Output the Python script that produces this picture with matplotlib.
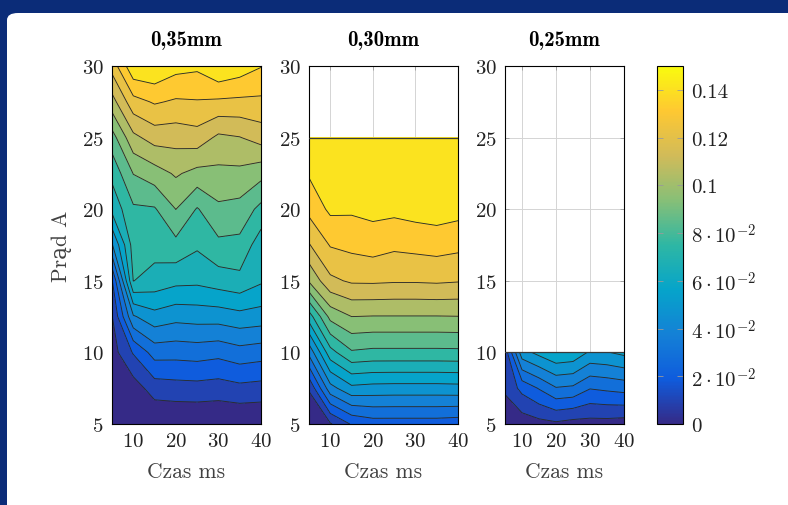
import numpy as np
import matplotlib
matplotlib.use("Agg")
import matplotlib.pyplot as plt
from matplotlib.colors import LinearSegmentedColormap, Normalize
from matplotlib.cm import ScalarMappable
from matplotlib.patches import FancyBboxPatch

plt.rcParams["font.family"] = ["cmr10", "DejaVu Serif"]
plt.rcParams["mathtext.fontset"] = "cm"
plt.rcParams["axes.unicode_minus"] = False
plt.rcParams["axes.formatter.use_mathtext"] = True

# =========================================================
# Datos
# =========================================================
titulos = ["0,35mm", "0,30mm", "0,25mm"]
czas = [5, 10, 15, 20, 25, 30, 35, 40]          # ms
prad_035 = [5, 7.5, 10, 12.5, 15, 17.5, 20, 22.5, 25, 27.5, 30]
prad_030 = [5, 7.5, 10, 12.5, 15, 17.5, 20, 22.5, 25]
prad_025 = [5, 7.5, 10]

# filas = prad, columnas = czas
z_035 = [
    [0.0000, 0.0010, 0.0000, 0.0000, 0.0000, 0.0000, 0.0000, 0.0000],
    [0.0025, 0.0049, 0.0148, 0.0159, 0.0163, 0.0153, 0.0173, 0.0163],
    [0.0055, 0.0209, 0.0342, 0.0338, 0.0346, 0.0331, 0.0362, 0.0346],
    [0.0095, 0.0488, 0.0564, 0.0533, 0.0542, 0.0545, 0.0567, 0.0555],
    [0.0190, 0.0802, 0.0761, 0.0728, 0.0722, 0.0749, 0.0771, 0.0714],
    [0.0490, 0.0843, 0.0839, 0.0871, 0.0815, 0.0877, 0.0871, 0.0745],
    [0.0727, 0.0884, 0.0890, 0.1001, 0.0892, 0.0980, 0.0966, 0.0870],
    [0.0828, 0.1003, 0.1055, 0.1113, 0.1068, 0.1075, 0.1075, 0.1034],
    [0.0956, 0.1174, 0.1242, 0.1239, 0.1258, 0.1179, 0.1196, 0.1242],
    [0.1159, 0.1364, 0.1411, 0.1387, 0.1393, 0.1383, 0.1378, 0.1379],
    [0.1340, 0.1580, 0.1590, 0.1535, 0.1520, 0.1595, 0.1556, 0.1505],
]
z_030 = [
    [0.0000, 0.0090, 0.0210, 0.0250, 0.0250, 0.0250, 0.0250, 0.0240],
    [0.0110, 0.0463, 0.0575, 0.0563, 0.0560, 0.0560, 0.0560, 0.0564],
    [0.0429, 0.0762, 0.0888, 0.0875, 0.0875, 0.0875, 0.0875, 0.0877],
    [0.0750, 0.1031, 0.1100, 0.1096, 0.1096, 0.1096, 0.1096, 0.1098],
    [0.1112, 0.1278, 0.1314, 0.1316, 0.1310, 0.1310, 0.1315, 0.1307],
    [0.1293, 0.1407, 0.1426, 0.1443, 0.1420, 0.1430, 0.1440, 0.1426],
    [0.1429, 0.1520, 0.1515, 0.1530, 0.1525, 0.1540, 0.1550, 0.1535],
    [0.1510, 0.1560, 0.1560, 0.1570, 0.1560, 0.1570, 0.1570, 0.1570],
    [0.1560, 0.1580, 0.1580, 0.1580, 0.1580, 0.1580, 0.1580, 0.1580],
]
z_025 = [
    [0.0030, 0.0040, 0.0065, 0.0080, 0.0060, 0.0060, 0.0060, 0.0050],
    [0.0115, 0.0231, 0.0307, 0.0393, 0.0380, 0.0305, 0.0320, 0.0335],
    [0.0140, 0.0560, 0.0630, 0.0690, 0.0675, 0.0585, 0.0595, 0.0625],
]

cbar_ticks = [0, 0.02, 0.04, 0.06, 0.08, 0.10, 0.12, 0.14]
cbar_labels = ["0", r"$2\cdot10^{-2}$", r"$4\cdot10^{-2}$", r"$6\cdot10^{-2}$",
               r"$8\cdot10^{-2}$", "0.1", "0.12", "0.14"]

# =========================================================
# Colormap tipo parula
# =========================================================
parula = LinearSegmentedColormap.from_list("parula", [
    (0.000, "#352a87"), (0.125, "#0f5cdd"), (0.250, "#1481d6"),
    (0.375, "#06a4ca"), (0.500, "#2eb7a4"), (0.625, "#87bf77"),
    (0.750, "#d1bb59"), (0.875, "#fec832"), (1.000, "#f9fb0e"),
])
norm = Normalize(vmin=0, vmax=0.15)
niveles = np.arange(0, 0.17, 0.01)
n_bandas = len(niveles) - 1
# cada banda toma el color de su nivel inferior
colores_bandas = [parula(k / n_bandas) for k in range(n_bandas)]

# =========================================================
# Figura
# =========================================================
W, H = 788, 506
fig = plt.figure(figsize=(W / 100, H / 100), dpi=100)
fig.patch.set_facecolor("#0b2c78")
fondo = FancyBboxPatch(
    (7 / W, -0.05), 1.1, 1 - 14 / H + 0.05,
    boxstyle="round,pad=0,rounding_size=0.014",
    transform=fig.transFigure, facecolor="white", edgecolor="none", zorder=-10
)
fig.patches.append(fondo)

def rect(x0, x1, y0=67, y1=425):
    return [x0 / W, 1 - y1 / H, (x1 - x0) / W, (y1 - y0) / H]

paneles = [
    (rect(112, 261), prad_035, z_035),
    (rect(309, 458), prad_030, z_030),
    (rect(505, 624), prad_025, z_025),
]

for i, (pos, prad, z) in enumerate(paneles):
    ax = fig.add_axes(pos)
    X, Y = np.meshgrid(czas, prad)
    Z = np.array(z)
    ax.set_axisbelow(True)
    ax.grid(True, color="#d4d4d4", linewidth=0.7)
    ax.contourf(X, Y, Z, levels=niveles, colors=colores_bandas, zorder=1)
    ax.contour(X, Y, Z, levels=niveles[1:-1], colors="#2b2b2b", linewidths=0.65, zorder=2)
    if max(prad) < 30:
        ax.axhline(max(prad), color="#3a3a3a", linewidth=0.9, zorder=3)
    ax.set_xlim(5, 40)
    ax.set_ylim(5, 30)
    ax.set_xticks([10, 20, 30, 40])
    ax.set_yticks([5, 10, 15, 20, 25, 30])
    ax.tick_params(direction="in", length=3, width=0.6, color="#9a9a9a",
                   labelsize=15, labelcolor="#222222", top=True, right=True, pad=6)
    for s in ax.spines.values():
        s.set_linewidth(0.8)
    ax.set_title(titulos[i], fontsize=15, fontfamily="cmb10", pad=15)
    ax.set_xlabel("Czas ms", fontsize=15.5, labelpad=8, color="#404040")
    if i == 0:
        ax.set_ylabel("Prąd A", fontsize=15.5, labelpad=7, color="#404040")

# ===== Colorbar =====
cax = fig.add_axes(rect(657, 683))
cb = fig.colorbar(ScalarMappable(norm=norm, cmap=parula), cax=cax)
cb.set_ticks(cbar_ticks)
cb.set_ticklabels(cbar_labels)
cb.outline.set_linewidth(0.8)
cax.tick_params(direction="in", length=4, width=0.6, color="#9a9a9a",
                left=True, right=True, labelsize=15, labelcolor="#222222", pad=6)

fig.savefig("out.png", dpi=100, facecolor=fig.get_facecolor())
